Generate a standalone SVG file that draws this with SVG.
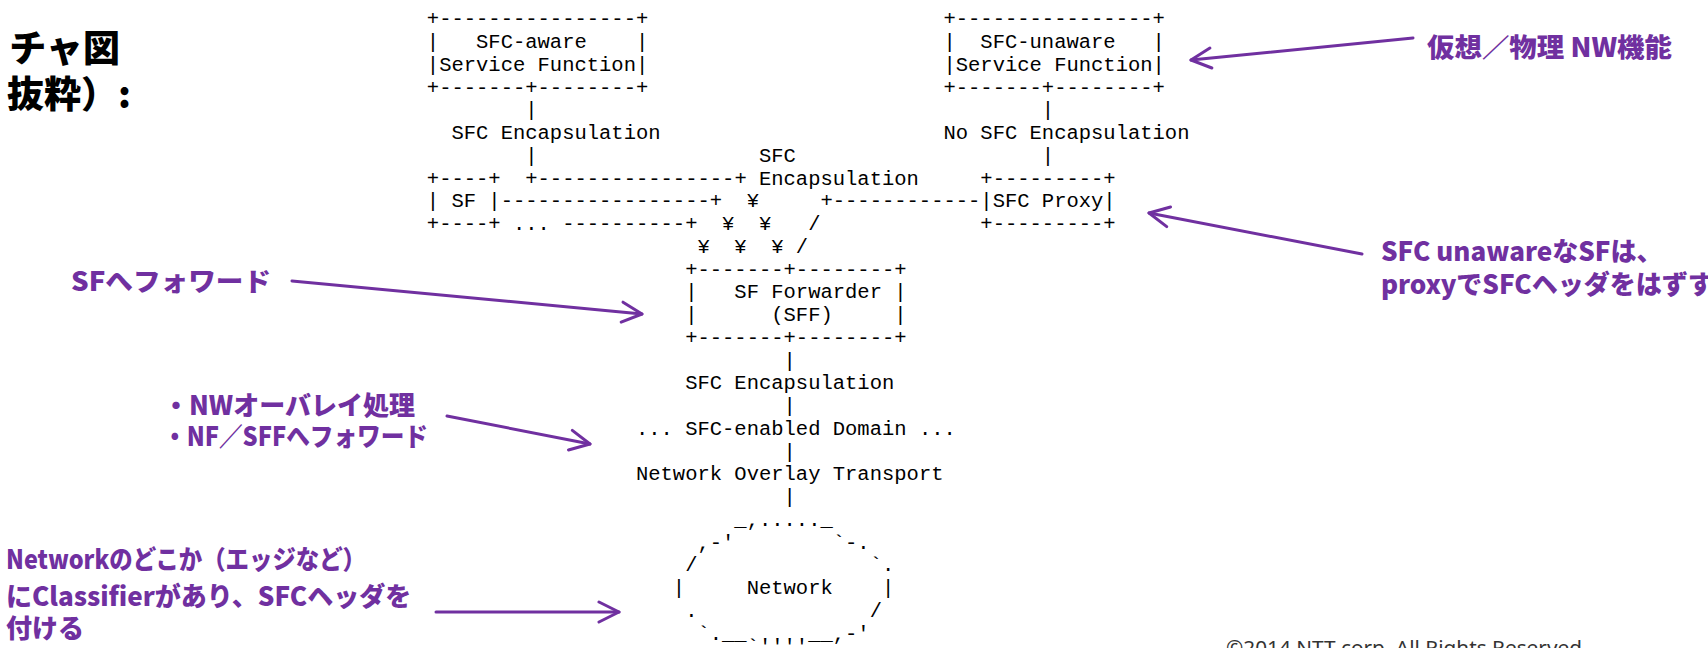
<svg xmlns="http://www.w3.org/2000/svg" width="1708" height="648" viewBox="0 0 1708 648">
<style>
.a{font-family:"Liberation Mono","DejaVu Sans Mono",monospace;font-size:20.5px;fill:#000;white-space:pre}
.n{font-family:"Noto Sans CJK JP","Noto Sans",sans-serif;font-weight:900;font-size:26px;fill:#7030A0}
.h{font-family:"Noto Sans CJK JP","Noto Sans",sans-serif;font-weight:900;font-size:37px;fill:#000}
.c{font-family:"Noto Sans","Liberation Sans",sans-serif;font-size:19px;fill:#333}
.callout{stroke:#7030A0;stroke-width:3;fill:none;stroke-linecap:round;marker-end:url(#arr)}
</style>
<defs>
<marker id="arr" markerUnits="userSpaceOnUse" viewBox="0 0 24 24" markerWidth="24" markerHeight="24" refX="22" refY="12" orient="auto">
<path d="M2,2 L22,12 L2,22" fill="none" stroke="#7030A0" stroke-width="3" stroke-linecap="round" stroke-linejoin="round"/>
</marker>
</defs>
<rect width="1708" height="648" fill="#fff"/>

<!-- slide heading (cut at the left edge) -->
<g id="heading">
<text class="h" x="120" y="62" text-anchor="end">チャ図</text>
<text class="h" x="131" y="108" text-anchor="end">抜粋）:</text>
</g>

<!-- ASCII architecture: column pitch 12.3px from x=426.85, row pitch 22.75px -->
<g id="sfc-aware-sf">
<text class="a" xml:space="preserve" x="426.85" y="25.25">+----------------+</text>
<text class="a" xml:space="preserve" x="426.85" y="48">|   SFC-aware    |</text>
<text class="a" xml:space="preserve" x="426.85" y="70.75">|Service Function|</text>
<text class="a" xml:space="preserve" x="426.85" y="93.5">+-------+--------+</text>
</g>
<g id="sfc-unaware-sf">
<text class="a" xml:space="preserve" x="943.45" y="25.25">+----------------+</text>
<text class="a" xml:space="preserve" x="943.45" y="48">|  SFC-unaware   |</text>
<text class="a" xml:space="preserve" x="943.45" y="70.75">|Service Function|</text>
<text class="a" xml:space="preserve" x="943.45" y="93.5">+-------+--------+</text>
</g>
<g id="sf">
<text class="a" xml:space="preserve" x="426.85" y="184.5">+----+</text>
<text class="a" xml:space="preserve" x="426.85" y="207.25">| SF |</text>
<text class="a" xml:space="preserve" x="426.85" y="230">+----+</text>
</g>
<g id="sfc-proxy">
<text class="a" xml:space="preserve" x="980.35" y="184.5">+---------+</text>
<text class="a" xml:space="preserve" x="980.35" y="207.25">|SFC Proxy|</text>
<text class="a" xml:space="preserve" x="980.35" y="230">+---------+</text>
</g>
<g id="sff">
<text class="a" xml:space="preserve" x="685.15" y="275.5">+-------+--------+</text>
<text class="a" xml:space="preserve" x="685.15" y="298.25">|   SF Forwarder |</text>
<text class="a" xml:space="preserve" x="685.15" y="321">|      (SFF)     |</text>
<text class="a" xml:space="preserve" x="685.15" y="343.75">+-------+--------+</text>
</g>
<g id="network">
<text class="a" xml:space="preserve" x="734.35" y="525.75">_,....._</text>
<text class="a" xml:space="preserve" x="697.45" y="548.5">,-'        `-.</text>
<text class="a" xml:space="preserve" x="685.15" y="571.25">/              `.</text>
<text class="a" xml:space="preserve" x="672.85" y="594">|     Network    |</text>
<text class="a" xml:space="preserve" x="685.15" y="616.75">.</text>
<text class="a" xml:space="preserve" x="869.65" y="616.75">/</text>
<text class="a" xml:space="preserve" x="697.45" y="639.5">`.__     __,-'</text>
<text class="a" xml:space="preserve" x="746.65" y="653">`''''</text>
</g>

<g id="connectors">
<!-- SFC-aware SF to SFF -->
<text class="a" x="525.25" y="116.25">|</text>
<text class="a" x="525.25" y="161.75">|</text>
<text class="a" xml:space="preserve" x="525.25" y="184.5">+----------------+</text>
<text class="a" x="746.65" y="207.25">¥</text>
<text class="a" x="758.95" y="230">¥</text>
<text class="a" x="771.25" y="252.75">¥</text>
<text class="a" x="722.05" y="230">¥</text>
<text class="a" x="734.35" y="252.75">¥</text>
<!-- SF to SFF -->
<text class="a" xml:space="preserve" x="500.65" y="207.25">-----------------+</text>
<text class="a" xml:space="preserve" x="512.95" y="230">...</text>
<text class="a" xml:space="preserve" x="562.15" y="230">----------+</text>
<text class="a" x="697.45" y="252.75">¥</text>
<!-- SFC-unaware SF through the proxy to SFF -->
<text class="a" x="1041.85" y="116.25">|</text>
<text class="a" x="1041.85" y="161.75">|</text>
<text class="a" xml:space="preserve" x="820.45" y="207.25">+------------</text>
<text class="a" x="808.15" y="230">/</text>
<text class="a" x="795.85" y="252.75">/</text>
<!-- SFF down to the network -->
<text class="a" x="783.55" y="366.5">|</text>
<text class="a" x="783.55" y="412">|</text>
<text class="a" x="783.55" y="457.5">|</text>
<text class="a" x="783.55" y="503">|</text>
</g>

<g id="link-labels">
<text class="a" xml:space="preserve" x="451.45" y="139">SFC Encapsulation</text>
<text class="a" xml:space="preserve" x="943.45" y="139">No SFC Encapsulation</text>
<text class="a" x="758.95" y="161.75">SFC</text>
<text class="a" x="758.95" y="184.5">Encapsulation</text>
<text class="a" xml:space="preserve" x="685.15" y="389.25">SFC Encapsulation</text>
<text class="a" xml:space="preserve" x="635.95" y="434.75">... SFC-enabled Domain ...</text>
<text class="a" xml:space="preserve" x="635.95" y="480.25">Network Overlay Transport</text>
</g>

<!-- purple callouts -->
<g id="callout-arrows">
<path class="callout" d="M1413,38 L1191,60"/>
<path class="callout" d="M1362,254 L1149,213"/>
<path class="callout" d="M292,281 L642,314"/>
<path class="callout" d="M447,416 L590,444"/>
<path class="callout" d="M436,612 L619,612"/>
</g>
<g id="callout-texts">
<text class="n" x="1427" y="57" textLength="245" lengthAdjust="spacingAndGlyphs">仮想／物理 NW機能</text>
<text class="n" x="1381" y="261">SFC unawareなSFは、</text>
<text class="n" x="1381" y="294">proxyでSFCヘッダをはずす</text>
<text class="n" x="71" y="291" textLength="200" lengthAdjust="spacingAndGlyphs">SFへフォワード</text>
<text class="n" x="163" y="415">・NWオーバレイ処理</text>
<text class="n" x="163" y="446" textLength="265" lengthAdjust="spacingAndGlyphs">・NF／SFFへフォワード</text>
<text class="n" x="6" y="569" textLength="360" lengthAdjust="spacingAndGlyphs">Networkのどこか（エッジなど）</text>
<text class="n" x="6" y="606">にClassifierがあり、SFCヘッダを</text>
<text class="n" x="6" y="638">付ける</text>
</g>

<text class="c" x="1226" y="655" textLength="356" lengthAdjust="spacingAndGlyphs">©2014 NTT corp. All Rights Reserved</text>
</svg>
